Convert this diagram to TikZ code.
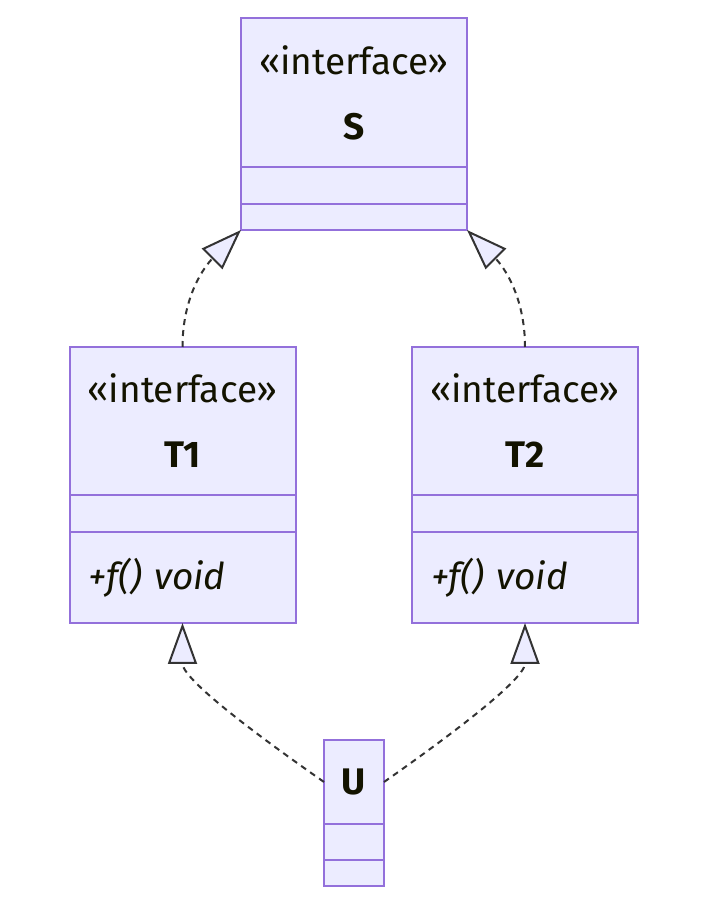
\documentclass[tikz,border=0pt]{standalone}
\usepackage{fontspec}
\setmainfont{Fira Sans}
\usepackage{tikz}
\usetikzlibrary{
  arrows.meta,
  positioning,
}
\definecolor{umlfill}{HTML}{ECECFF}
\definecolor{umlstroke}{HTML}{9370DB}
\definecolor{umlline}{HTML}{333333}
\definecolor{umltext}{HTML}{131300}

\begin{document}
\begin{tikzpicture}[
  x=1pt, y=1pt,
  box/.style={draw=umlstroke, fill=umlfill, line width=2pt, outer sep=0pt,
    inner sep=0pt, minimum width=226pt, text=umltext,
    font=\fontsize{37}{44}\selectfont},
  head/.style={box, align=center},
  meth/.style={box, text width=188pt, inner xsep=19pt, align=left},
  dep/.style={umlline, line width=2pt, dash pattern=on 6pt off 5pt,
    -{Triangle[length=41pt, width=29pt, fill=umlfill, line width=2pt]}},
]
  \useasboundingbox (0,0) rectangle (708,905);

  % Interface S
  \node[head, minimum height=149pt] (Shead) at (354,812.5)
    {«interface»\\[21pt]\textbf{S}};
  \node[box, minimum height=37pt, below=0pt of Shead] (Sattr) {};
  \node[box, minimum height=26pt, below=0pt of Sattr] (Smeth) {};

  % Interface T1
  \node[head, minimum height=148pt] (Thead1) at (182.5,484)
    {«interface»\\[21pt]\textbf{T1}};
  \node[box, minimum height=37pt, below=0pt of Thead1] (Tattr1) {};
  \node[meth, minimum height=91pt, below=0pt of Tattr1] (Tmeth1)
    {\textit{+f() void}};

  % Interface T2
  \node[head, minimum height=148pt] (Thead2) at (525,484)
    {«interface»\\[21pt]\textbf{T2}};
  \node[box, minimum height=37pt, below=0pt of Thead2] (Tattr2) {};
  \node[meth, minimum height=91pt, below=0pt of Tattr2] (Tmeth2)
    {\textit{+f() void}};

  % Class U
  \node[head, minimum width=60pt, minimum height=84pt] (Uhead) at (354,123)
    {\textbf{U}};
  \node[box, minimum width=60pt, minimum height=36pt, below=0pt of Uhead] (Uattr) {};
  \node[box, minimum width=60pt, minimum height=26pt, below=0pt of Uattr] (Umeth) {};

  % Realisations
  \draw[dep] (Thead1.north) to[out=90, in=225] (Smeth.south west);
  \draw[dep] (Thead2.north) to[out=90, in=-45] (Smeth.south east);
  \draw[dep] (Uhead.west) to[out=145, in=-90, looseness=0.7] (Tmeth1.south);
  \draw[dep] (Uhead.east) to[out=35, in=-90, looseness=0.7] (Tmeth2.south);

\end{tikzpicture}
\end{document}
